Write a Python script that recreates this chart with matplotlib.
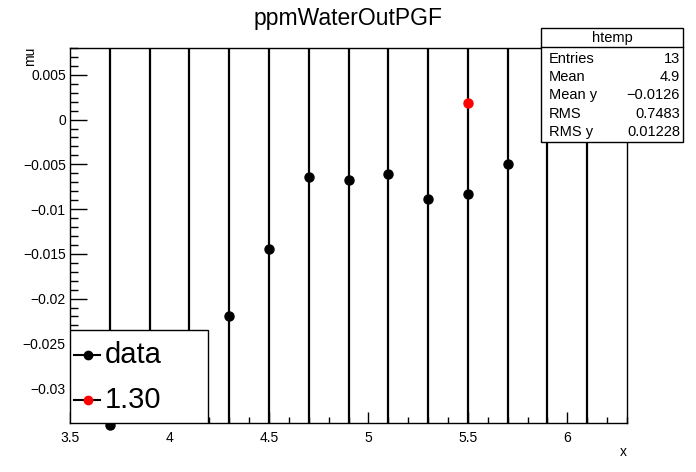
import numpy as np
import matplotlib.pyplot as plt
from matplotlib.lines import Line2D
from matplotlib.ticker import MultipleLocator, FuncFormatter

plt.rcParams['font.family'] = ['Liberation Sans', 'DejaVu Sans']

# data
x_data = [3.7, 3.9, 4.1, 4.3, 4.5, 4.7, 4.9, 5.1, 5.3, 5.5, 5.7, 5.9, 6.1]
mu_data = [-0.0341, -0.0275, -0.0275, -0.0219, -0.0145, -0.0064, -0.0067,
           -0.0061, -0.0089, -0.0083, -0.0050, 0.0001, 0.0030]
mu_err = [0.06] * 13

x_sel = [5.5]
mu_sel = [0.0018]

legend_labels = ['data', '1.30']
legend_colors = ['black', 'red']

stats_names = ['Entries', 'Mean', 'Mean y', 'RMS', 'RMS y']
stats_vals = ['13', '4.9', '\u22120.0126', '0.7483', '0.01228']

fig = plt.figure(figsize=(6.96, 4.72), dpi=100)
ax = fig.add_axes([70/696, 1 - 423/472, 557/696, 375/472])

ax.errorbar(x_data, mu_data, yerr=mu_err, fmt='o', color='black', ms=6.5,
            elinewidth=1.6, capsize=0, zorder=3)
ax.plot(x_sel, mu_sel, 'o', color='red', ms=6.5, zorder=4)
# the lowest point sits on the frame, root does not clip it
ax.plot(x_data[0], mu_data[0], 'o', color='black', ms=6.5, clip_on=False, zorder=2)

ax.set_xlim(3.5, 6.3)
ax.set_ylim(-0.0339, 0.0080)

ax.xaxis.set_major_locator(MultipleLocator(0.5))
ax.xaxis.set_minor_locator(MultipleLocator(0.1))
ax.yaxis.set_major_locator(MultipleLocator(0.005))
ax.yaxis.set_minor_locator(MultipleLocator(0.001))
ax.xaxis.set_major_formatter(FuncFormatter(lambda v, p: '%g' % round(v, 4)))
ax.yaxis.set_major_formatter(FuncFormatter(lambda v, p: ('%g' % round(v, 4)).replace('-', '\u2212')))
ax.tick_params(axis='both', which='both', direction='in', top=False, right=False,
               labelsize=10, width=1)
ax.tick_params(axis='y', which='major', length=12, pad=3)
ax.tick_params(axis='y', which='minor', length=6)
ax.tick_params(axis='x', which='major', length=8, pad=6)
ax.tick_params(axis='x', which='minor', length=4)
for s in ax.spines.values():
    s.set_linewidth(1)

fig.text(348/696, 1 - 18/472, 'ppmWaterOutPGF', ha='center', va='center', fontsize=16.5)
fig.text(30/696, 1 - 47/472, 'mu', rotation=90, ha='center', va='top', fontsize=10)
fig.text(627/696, 1 - 452/472, 'x', ha='right', va='center', fontsize=10)

# legend box, drawn by hand (root TLegend)
lw_ax, lh_ax = 138/557, 93/375
ax.add_patch(plt.Rectangle((0, 0), lw_ax, lh_ax, transform=ax.transAxes,
                           facecolor='white', edgecolor='black', lw=1, zorder=10))
for lab, col, yy in zip(legend_labels, legend_colors, [0.181, 0.061]):
    ax.add_line(Line2D([0.008, 0.054], [yy, yy], transform=ax.transAxes,
                       color='black', lw=1.5, zorder=11))
    ax.add_line(Line2D([0.032], [yy], transform=ax.transAxes, marker='o', ms=6,
                       color=col, zorder=12))
    ax.text(0.063, yy, lab, transform=ax.transAxes, ha='left', va='center',
            fontsize=21, zorder=12)

# stats box
bx0, bx1, by0, by1 = 541/696, 683/696, 1 - 142/472, 1 - 28/472
fig.patches.append(plt.Rectangle((bx0, by0), bx1 - bx0, by1 - by0, transform=fig.transFigure,
                                 facecolor='white', edgecolor='black', lw=1, zorder=20))
fig.lines.append(Line2D([bx0, bx1], [1 - 47/472] * 2, transform=fig.transFigure,
                        color='black', lw=1, zorder=21))
fig.text((bx0 + bx1) / 2, 1 - 38/472, 'htemp', ha='center', va='center', fontsize=10.5, zorder=22)
rows_y = [59, 77, 95, 114, 132]
for name, val, yy in zip(stats_names, stats_vals, rows_y):
    fig.text(549/696, 1 - yy/472, name, ha='left', va='center', fontsize=10.5, zorder=22)
    fig.text(680/696, 1 - yy/472, val, ha='right', va='center', fontsize=10.5, zorder=22)

fig.savefig('out.png', dpi=100)
